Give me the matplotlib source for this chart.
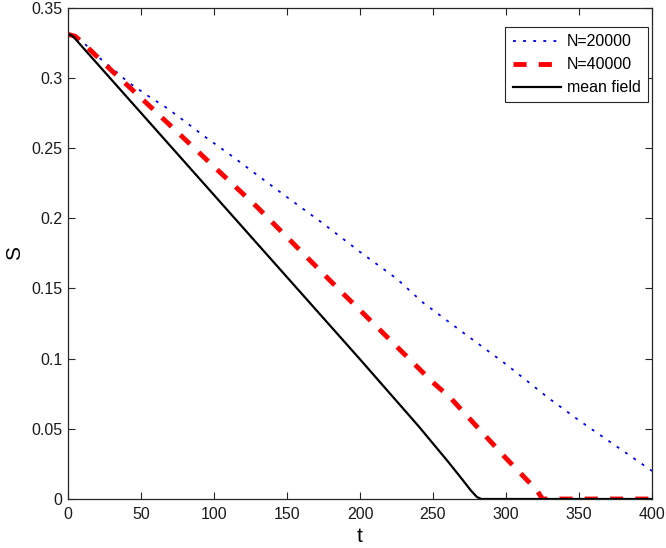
import matplotlib
matplotlib.use("Agg")
import matplotlib.pyplot as plt

# ---- data ----
t_mf = [0, 1.5, 3, 4.5, 10, 20, 30, 50, 100, 150, 200, 240, 260, 270, 276, 280, 283, 290, 400]
s_mf = [0.331, 0.3307, 0.3298, 0.3283, 0.3218, 0.3101, 0.2984, 0.2750, 0.2165, 0.158,
        0.0995, 0.052, 0.027, 0.014, 0.006, 0.0015, 0.0, 0.0, 0.0]

t_40k = [0, 5, 10, 17, 30, 50, 100, 129.5, 150, 188, 200, 250, 262, 300, 321, 325, 400]
s_40k = [0.331, 0.3295, 0.325, 0.318, 0.305, 0.2857, 0.2367, 0.208, 0.1865, 0.1467,
         0.1345, 0.083, 0.072, 0.029, 0.0064, 0.0, 0.0]

t_20k = [0, 5, 10, 17, 30, 41, 55, 67.7, 80, 92.5, 110, 128, 150, 175, 200, 225, 243,
         270, 300, 329, 350, 375, 400]
s_20k = [0.331, 0.3295, 0.326, 0.318, 0.307, 0.297, 0.287, 0.2785, 0.269, 0.259, 0.246,
         0.232, 0.215, 0.196, 0.176, 0.157, 0.140, 0.119, 0.096, 0.072, 0.056, 0.038, 0.020]

labels = ["N=20000", "N=40000", "mean field"]
x_ticks = [0, 50, 100, 150, 200, 250, 300, 350, 400]
y_ticks = [0, 0.05, 0.1, 0.15, 0.2, 0.25, 0.3, 0.35]
y_ticklabels = ["0", "0.05", "0.1", "0.15", "0.2", "0.25", "0.3", "0.35"]

plt.rcParams['font.family'] = ['Liberation Sans', 'DejaVu Sans']
spine_col = '#262626'

fig = plt.figure(figsize=(6.66, 5.48), dpi=100)
ax = fig.add_axes([68/666, 1 - 499/548, 584/666, 491.4/548])

ax.plot(t_20k, s_20k, color='#0000ff', lw=1.3, dashes=(1.6, 4.0), label=labels[0])
ax.plot(t_40k, s_40k, color='#ff0000', lw=3.5, dashes=(2.7, 2.5), label=labels[1])
ax.plot(t_mf, s_mf, color='black', lw=1.6, label=labels[2])

ax.set_xlim(0, 400)
ax.set_ylim(0, 0.35)
ax.set_xticks(x_ticks)
ax.set_xticklabels([str(v) for v in x_ticks])
ax.set_yticks(y_ticks)
ax.set_yticklabels(y_ticklabels)
ax.tick_params(direction='in', length=5, width=0.8, top=True, right=True,
               labelsize=11.5, colors=spine_col)
ax.tick_params(axis='x', pad=6)
ax.tick_params(axis='y', pad=4)
ax.tick_params(labelcolor='#1a1a1a')
for sp in ax.spines.values():
    sp.set_color(spine_col)
    sp.set_linewidth(0.9)

ax.set_xlabel('t', fontsize=15, labelpad=3)
ax.set_ylabel('S', fontsize=15, labelpad=5)

leg = ax.legend(loc='upper right', bbox_to_anchor=((648 - 68) / 584, (499 - 27) / 491.4),
                borderaxespad=0, fancybox=False, framealpha=1, edgecolor=spine_col,
                fontsize=11.5, handlelength=3.0, handletextpad=0.4, labelspacing=0.5,
                borderpad=0.45)
leg.get_frame().set_linewidth(0.8)

fig.savefig('out.png', dpi=100)
